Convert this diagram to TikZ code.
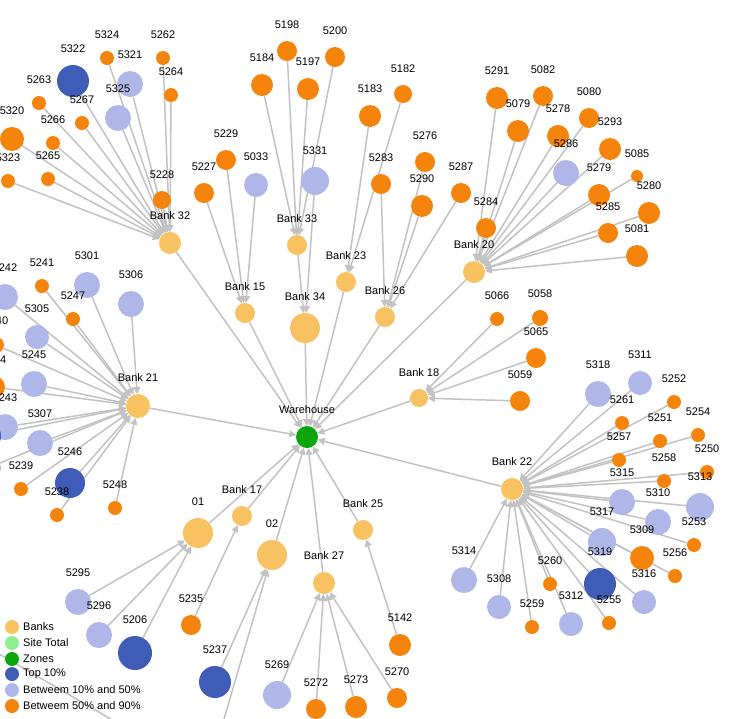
\documentclass[tikz,border=0pt]{standalone}
\usepackage{fontspec}
\setmainfont{Liberation Sans}
\usetikzlibrary{arrows.meta}
\pgfdeclarelayer{back}
\pgfdeclarelayer{bg}
\pgfsetlayers{back,bg,main}
\definecolor{bankc}{HTML}{F8C262}
\definecolor{orangec}{HTML}{F5840C}
\definecolor{lbluec}{HTML}{AEB7E8}
\definecolor{dbluec}{HTML}{3F5CB6}
\definecolor{zonec}{HTML}{0BA60B}
\definecolor{sitec}{HTML}{90EE90}
\definecolor{edgec}{HTML}{C2C2C2}
\tikzset{
  base/.style={circle, inner sep=0pt, outer sep=0pt, draw=none},
  bank/.style={base, fill=bankc},
  orng/.style={base, fill=orangec},
  lblue/.style={base, fill=lbluec},
  dblue/.style={base, fill=dbluec},
  zone/.style={base, fill=zonec},
  site/.style={base, fill=sitec},
  lbl/.style={inner sep=0pt, font=\fontsize{11}{12}\selectfont, text=black},
  legtext/.style={inner sep=0pt, anchor=west, font=\fontsize{11}{12}\selectfont, text=black},
  edge/.style={draw=edgec, line width=1.5pt, -{Triangle[length=7pt,width=7pt]}},
}
\newcommand\nd[6]{\node[#5, minimum size={2*#4}, label={[lbl,label distance=12pt]above:#6}] (#1) at (#2,#3) {};}
\begin{document}
\begin{tikzpicture}[x=1pt,y=-1pt]
\begin{pgfonlayer}{back}
\fill[white] (0,0) rectangle (736,718);
\end{pgfonlayer}
\useasboundingbox (0,0) rectangle (736,718);
% banks and warehouse
\nd{wh}{307}{437}{11}{zone}{Warehouse}
\nd{b32}{170}{243}{11}{bank}{Bank 32}
\nd{b15}{245}{313}{10}{bank}{Bank 15}
\nd{b33}{297}{245}{10}{bank}{Bank 33}
\nd{b34}{305}{328}{15}{bank}{Bank 34}
\nd{b23}{346}{282}{10}{bank}{Bank 23}
\nd{b26}{385}{317}{10}{bank}{Bank 26}
\nd{b20}{474}{272}{11}{bank}{Bank 20}
\nd{b18}{419}{398}{9}{bank}{Bank 18}
\nd{b22}{512}{489}{11}{bank}{Bank 22}
\nd{b21}{138}{406}{12}{bank}{Bank 21}
\nd{n01}{198}{533}{15}{bank}{01}
\nd{b17}{242}{516}{10}{bank}{Bank 17}
\nd{n02}{272}{555}{15}{bank}{02}
\nd{b27}{324}{583}{11}{bank}{Bank 27}
\nd{b25}{363}{530}{10}{bank}{Bank 25}
% Bank 32 cluster
\nd{n5324}{107}{58}{7}{orng}{5324}
\nd{n5262}{163}{58}{7}{orng}{5262}
\nd{n5322}{73}{81}{16}{dblue}{5322}
\nd{n5321}{130}{84}{13}{lblue}{5321}
\nd{n5264}{171}{95}{7}{orng}{5264}
\nd{n5263}{39}{103}{7}{orng}{5263}
\nd{n5325}{118}{118}{13}{lblue}{5325}
\nd{n5267}{82}{123}{7}{orng}{5267}
\nd{n5266}{53}{143}{7}{orng}{5266}
\nd{n5320}{12}{139}{12}{orng}{5320}
\nd{n5265}{48}{179}{7}{orng}{5265}
\nd{n5323}{8}{181}{7}{orng}{5323}
\nd{n5228}{162}{200}{9}{orng}{5228}
% Bank 15 cluster
\nd{n5229}{226}{160}{10}{orng}{5229}
\nd{n5227}{204}{193}{10}{orng}{5227}
\nd{n5033}{256}{185}{12}{lblue}{5033}
% Bank 33 / 34 cluster
\nd{n5198}{287}{51}{10}{orng}{5198}
\nd{n5184}{262}{85}{11}{orng}{5184}
\nd{n5197}{308}{89}{11}{orng}{5197}
\nd{n5200}{335}{57}{10}{orng}{5200}
\nd{n5331}{315}{181}{14}{lblue}{5331}
% Bank 23 / 26
\nd{n5183}{370}{116}{11}{orng}{5183}
\nd{n5182}{403}{94}{9}{orng}{5182}
\nd{n5283}{381}{184}{10}{orng}{5283}
\nd{n5276}{425}{162}{10}{orng}{5276}
\nd{n5290}{422}{206}{11}{orng}{5290}
\nd{n5287}{461}{193}{10}{orng}{5287}
% Bank 20
\nd{n5291}{497}{98}{11}{orng}{5291}
\nd{n5082}{543}{96}{10}{orng}{5082}
\nd{n5079}{518}{131}{11}{orng}{5079}
\nd{n5080}{589}{118}{10}{orng}{5080}
\nd{n5278}{558}{136}{11}{orng}{5278}
\nd{n5293}{610}{149}{11}{orng}{5293}
\nd{n5286}{566}{173}{13}{lblue}{5286}
\nd{n5085}{637}{176}{6}{orng}{5085}
\nd{n5279}{599}{195}{11}{orng}{5279}
\nd{n5280}{649}{213}{11}{orng}{5280}
\nd{n5285}{608}{233}{10}{orng}{5285}
\nd{n5081}{637}{256}{11}{orng}{5081}
\nd{n5284}{486}{228}{10}{orng}{5284}
% Bank 18
\nd{n5066}{497}{319}{7}{orng}{5066}
\nd{n5058}{540}{318}{8}{orng}{5058}
\nd{n5065}{536}{358}{10}{orng}{5065}
\nd{n5059}{520}{401}{10}{orng}{5059}
% Bank 22
\nd{n5318}{598}{394}{13}{lblue}{5318}
\nd{n5311}{640}{383}{12}{lblue}{5311}
\nd{n5252}{674}{402}{7}{orng}{5252}
\nd{n5261}{622}{423}{7}{orng}{5261}
\nd{n5254}{698}{435}{7}{orng}{5254}
\nd{n5257}{619}{460}{7}{orng}{5257}
\nd{n5251}{660}{441}{7}{orng}{5251}
\nd{n5258}{664}{481}{7}{orng}{5258}
\nd{n5250}{707}{472}{7}{orng}{5250}
\nd{n5315}{622}{502}{13}{lblue}{5315}
\nd{n5313}{700}{507}{14}{lblue}{5313}
\nd{n5310}{658}{522}{13}{lblue}{5310}
\nd{n5317}{602}{542}{14}{lblue}{5317}
\nd{n5253}{694}{545}{7}{orng}{5253}
\nd{n5309}{642}{558}{12}{orng}{5309}
\nd{n5256}{675}{576}{7}{orng}{5256}
\nd{n5319}{600}{584}{16}{dblue}{5319}
\nd{n5316}{644}{602}{12}{lblue}{5316}
\nd{n5255}{609}{623}{7}{orng}{5255}
\nd{n5312}{571}{624}{12}{lblue}{5312}
\nd{n5260}{550}{584}{7}{orng}{5260}
\nd{n5259}{532}{627}{7}{orng}{5259}
\nd{n5308}{499}{607}{12}{lblue}{5308}
\nd{n5314}{464}{580}{13}{lblue}{5314}
% Bank 21
\nd{n5242}{5}{297}{13}{lblue}{5242}
\nd{n5241}{42}{286}{7}{orng}{5241}
\nd{n5301}{87}{285}{13}{lblue}{5301}
\nd{n5306}{131}{304}{13}{lblue}{5306}
\nd{n5247}{73}{319}{7}{orng}{5247}
\nd{n5305}{37}{337}{12}{lblue}{5305}
\nd{n5240}{-4}{345}{8}{orng}{5240}
\nd{n5245}{34}{384}{13}{lblue}{5245}
\nd{n5244}{-6}{387}{11}{orng}{5244}
\nd{n5243}{5}{427}{13}{lblue}{5243}
\node[dblue, minimum size=32] (xdb) at (-15,436) {};
\node[lblue, minimum size=26] (xlb) at (-12,468) {};
\nd{n5307}{40}{443}{13}{lblue}{5307}
\nd{n5239}{21}{489}{7}{orng}{5239}
\nd{n5246}{70}{483}{15}{dblue}{5246}
\nd{n5238}{57}{515}{7}{orng}{5238}
\nd{n5248}{115}{508}{7}{orng}{5248}
% bottom
\nd{n5295}{78}{602}{13}{lblue}{5295}
\nd{n5296}{99}{635}{13}{lblue}{5296}
\nd{n5206}{135}{653}{17}{dblue}{5206}
\nd{n5235}{191}{625}{10}{orng}{5235}
\nd{n5237}{215}{682}{16}{dblue}{5237}
\nd{n5142}{400}{645}{11}{orng}{5142}
\nd{n5269}{277}{695}{14}{lblue}{5269}
\nd{n5272}{316}{709}{10}{orng}{5272}
\nd{n5273}{356}{707}{11}{orng}{5273}
\nd{n5270}{397}{698}{10}{orng}{5270}
\coordinate (offA) at (212,760);
\coordinate (offL) at (-30,637);
\coordinate (offB) at (140,736);
% edges
\begin{pgfonlayer}{bg}
\foreach \s in {n5324,n5262,n5322,n5321,n5264,n5263,n5325,n5267,n5266,n5320,n5265,n5323,n5228}
  \draw[edge] (\s) -- (b32);
\foreach \s in {n5229,n5227,n5033} \draw[edge] (\s) -- (b15);
\foreach \s in {n5198,n5184,n5197,n5200} \draw[edge] (\s) -- (b33);
\foreach \s in {b33,n5331} \draw[edge] (\s) -- (b34);
\foreach \s in {n5183,n5182} \draw[edge] (\s) -- (b23);
\foreach \s in {n5283,n5276,n5290,n5287} \draw[edge] (\s) -- (b26);
\foreach \s in {n5291,n5082,n5079,n5080,n5278,n5293,n5286,n5085,n5279,n5280,n5285,n5081,n5284}
  \draw[edge] (\s) -- (b20);
\foreach \s in {n5066,n5058,n5065,n5059} \draw[edge] (\s) -- (b18);
\foreach \s in {n5318,n5311,n5252,n5261,n5254,n5257,n5251,n5258,n5250,n5315,n5313,n5310,n5317,n5253,n5309,n5256,n5319,n5316,n5255,n5312,n5260,n5259,n5308,n5314}
  \draw[edge] (\s) -- (b22);
\foreach \s in {n5242,n5241,n5301,n5306,n5247,n5305,n5240,n5245,n5244,n5243,xdb,xlb,n5307,n5239,n5246,n5238,n5248}
  \draw[edge] (\s) -- (b21);
\foreach \s in {n5295,n5296,n5206} \draw[edge] (\s) -- (n01);
\draw[edge] (n5235) -- (b17);
\foreach \s in {n5237,offA} \draw[edge] (\s) -- (n02);
\draw[edge] (n5142) -- (b25);
\foreach \s in {n5269,n5272,n5273,n5270} \draw[edge] (\s) -- (b27);
\draw[edge] (offL) -- (offB);
\foreach \s in {b32,b15,b34,b23,b26,b20,b18,b22,b21,n01,b17,n02,b27,b25}
  \draw[edge] (\s) -- (wh);
\end{pgfonlayer}
% legend
\node[bank, minimum size=14] (lg1) at (12,627) {};
\node[site, minimum size=14] (lg2) at (12,643) {};
\node[zone, minimum size=14] (lg3) at (12,659) {};
\node[dblue, minimum size=14] (lg4) at (12,674) {};
\node[lblue, minimum size=14] (lg5) at (12,690) {};
\node[orng, minimum size=14] (lg6) at (12,706) {};
\node[legtext] (lt1) at (23,627) {Banks};
\node[legtext] (lt2) at (23,643) {Site Total};
\node[legtext] (lt3) at (23,659) {Zones};
\node[legtext] (lt4) at (23,674) {Top 10\%};
\node[legtext] (lt5) at (23,690) {Betweem 10\% and 50\%};
\node[legtext] (lt6) at (23,706) {Betweem 50\% and 90\%};
\end{tikzpicture}
\end{document}
